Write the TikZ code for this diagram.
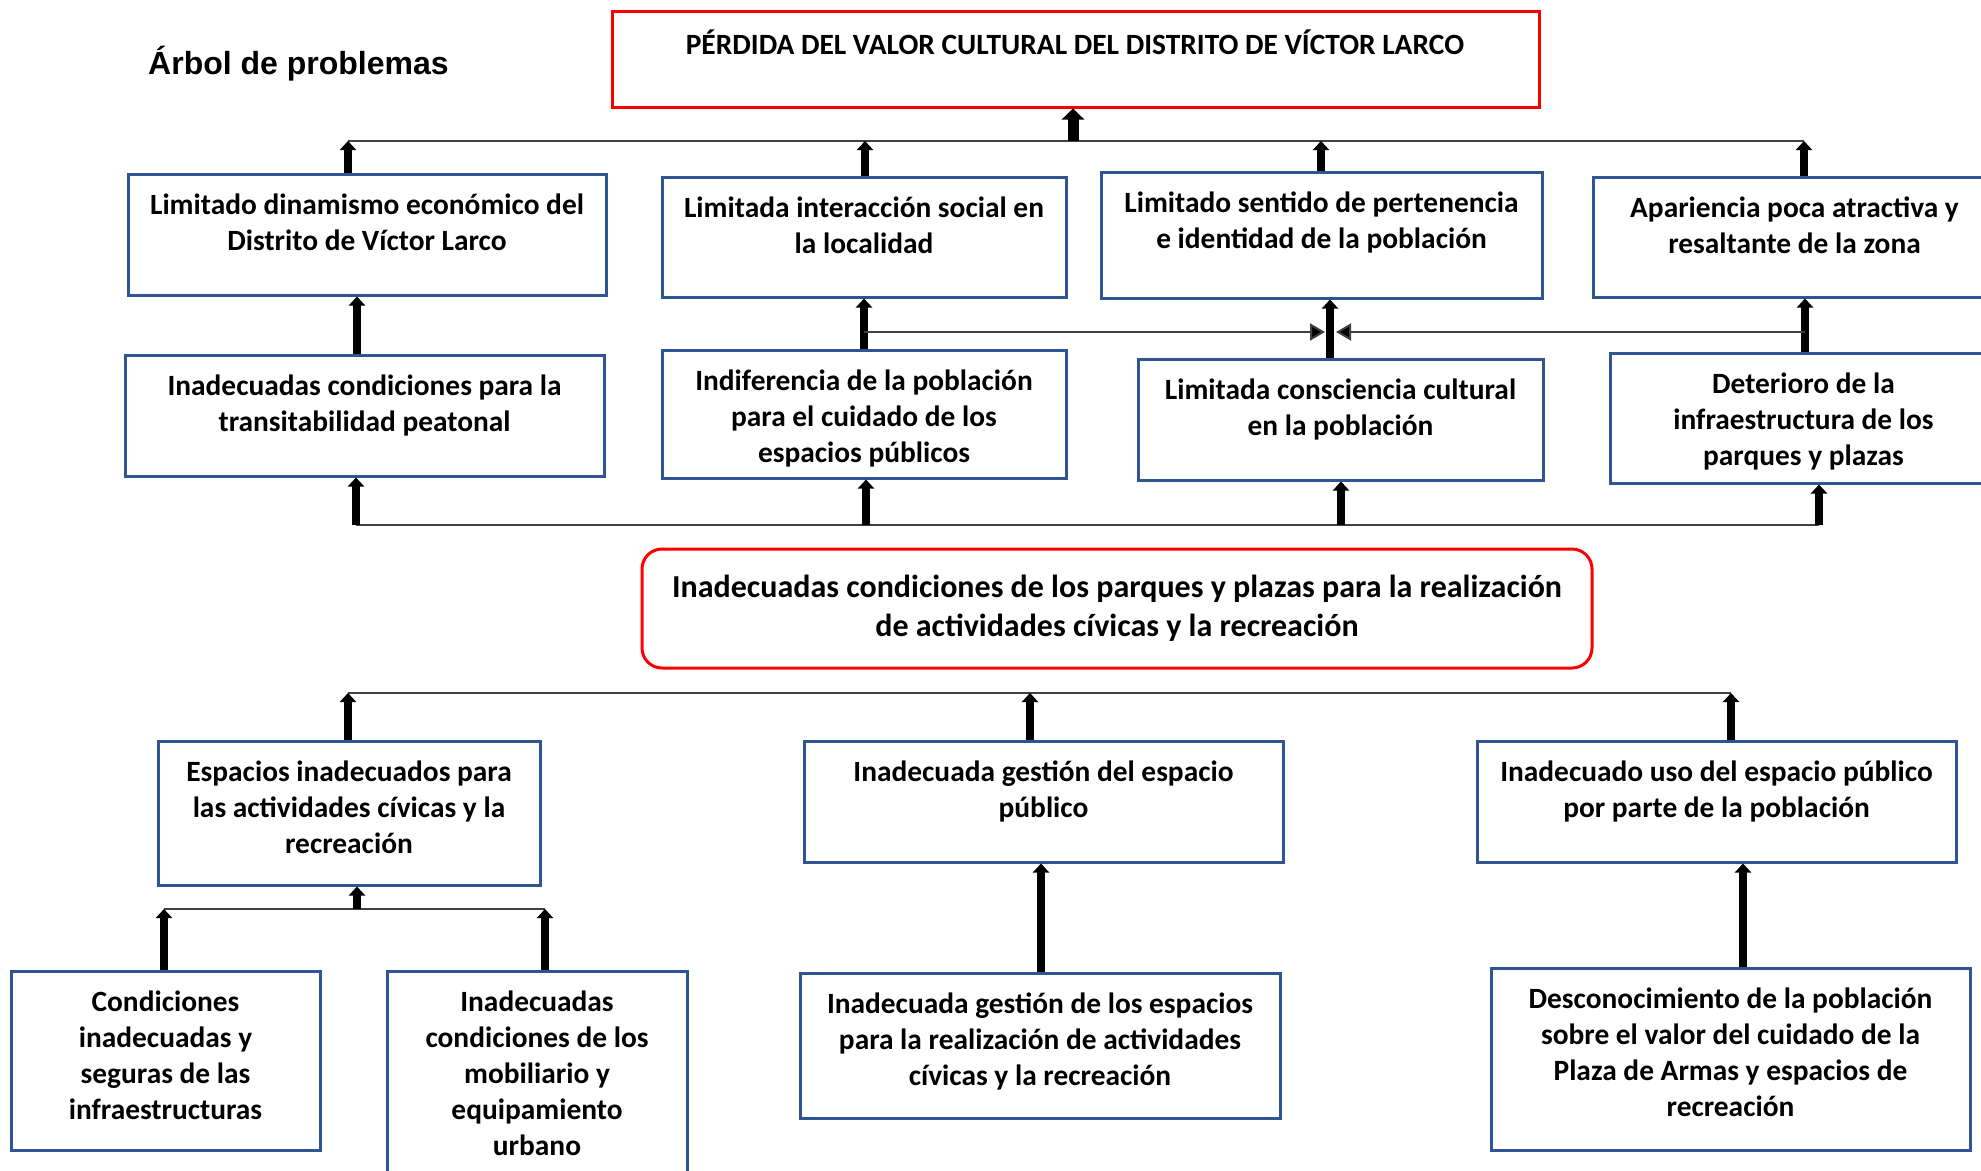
\documentclass[tikz,border=0pt]{standalone}
\usepackage{fontspec}
\setmainfont{Carlito}
\newfontfamily\arialfont{Liberation Sans}
\usetikzlibrary{arrows.meta,calc}
\definecolor{bxblue}{RGB}{47,85,151}
\definecolor{busgray}{RGB}{64,64,64}
\definecolor{pred}{RGB}{255,0,0}
\tikzset{
  box/.style={draw=bxblue, line width=3pt, inner sep=0pt, fill=white},
  redbox/.style={draw=pred, line width=3pt, inner sep=0pt},
  txt/.style={font=\bfseries\fontsize{29.4}{36}\selectfont, align=center, inner sep=0pt},
  arr/.style={line width=7.5pt, -{Triangle[width=16pt,length=9pt]}},
  bigarr/.style={line width=11pt, -{Triangle[width=22pt,length=11pt]}},
  harr/.style={line width=2pt, draw=busgray, -{Triangle[width=17pt,length=15pt,fill=black]}},
  bus/.style={line width=2pt, draw=busgray},
}
\newcommand\pbox[6]{%
  \node[box, minimum width={#4-#2}, minimum height={#5-#3}] (#1) at ({(#2+#4)/2},{(#3+#5)/2}) {};
  \node[txt, anchor=north] (#1t) at ($(#1.north)+(0,16.5)$) {\strut #6};}
\begin{document}
\begin{tikzpicture}[x=1pt,y=-1pt]
\useasboundingbox (0,0) rectangle (1981,1170);
\clip (0,0) rectangle (1981,1170);
\fill[white] (0,0) rectangle (1981,1170);

% title
\node[anchor=base west, inner sep=0pt, font=\arialfont\bfseries\fontsize{32}{38}\selectfont] (title) at (148,74) {Árbol de problemas};

% top effect
\node[redbox, minimum width=927, minimum height=96] (T) at (1075.5,59) {};
\node[anchor=base, inner sep=0pt, font=\bfseries\fontsize{29.4}{36}\selectfont] (Tt) at (1075,54.5) {PÉRDIDA DEL VALOR CULTURAL DEL DISTRITO DE VÍCTOR LARCO};

% row 1
\pbox{A}{128}{174}{606}{295}{Limitado dinamismo económico del\\Distrito de Víctor Larco}
\pbox{B}{662}{177}{1066}{297}{Limitada interacción social en\\la localidad}
\pbox{C}{1101}{172}{1542}{298}{Limitado sentido de pertenencia\\e identidad de la población}
\node[box, minimum width=400, minimum height=120] (D) at (1793,237) {};
\node[txt, anchor=north] (Dt) at ($(D.north west)+(203,16.5)$) {\strut Apariencia poca atractiva y\\resaltante de la zona};

% row 2
\pbox{E}{125}{355}{604}{476}{Inadecuadas condiciones para la\\transitabilidad peatonal}
\pbox{F}{662}{350}{1066}{478}{Indiferencia de la población\\para el cuidado de los\\espacios públicos}
\pbox{G}{1138}{359}{1543}{480}{Limitada consciencia cultural\\en la población}
\node[box, minimum width=390, minimum height=130] (H) at (1805,418) {};
\node[txt, anchor=north] (Ht) at ($(H.north west)+(195,16.5)$) {\strut Deterioro de la\\infraestructura de los\\parques y plazas};

% central problem
\node[redbox, rounded corners=20pt, minimum width=950, minimum height=119] (P) at (1117,608.5) {};
\node[anchor=north, align=center, inner sep=0pt, font=\bfseries\fontsize{32}{39}\selectfont] (Pt) at ($(P.north)+(0,22.5)$) {\strut Inadecuadas condiciones de los parques y plazas para la realización\\de actividades cívicas y la recreación};

% row 3
\pbox{I}{158}{741}{540}{885}{Espacios inadecuados para\\las actividades cívicas y la\\recreación}
\pbox{J}{804}{741}{1283}{862}{Inadecuada gestión del espacio\\público}
\pbox{K}{1477}{741}{1956}{862}{Inadecuado uso del espacio público\\por parte de la población}

% row 4
\pbox{L}{11}{971}{320}{1150}{Condiciones\\inadecuadas y\\seguras de las\\infraestructuras}
\pbox{M}{387}{971}{687}{1200}{Inadecuadas\\condiciones de los\\mobiliario y\\equipamiento\\urbano}
\pbox{N}{800}{973}{1280}{1118}{Inadecuada gestión de los espacios\\para la realización de actividades\\cívicas y la recreación}
\pbox{O}{1491}{968}{1970}{1150}{Desconocimiento de la población\\sobre el valor del cuidado de la\\Plaza de Armas y espacios de\\recreación}

% bus 1 (row 1 -> top)
\coordinate (b1a) at (348,141);
\coordinate (b1b) at (865,141);
\coordinate (b1t) at (1073,141);
\coordinate (b1c) at (1321,141);
\coordinate (b1d) at (1804,141);
\draw[bus] (b1a) -- (b1d);
\draw[bigarr] (b1t) -- (b1t |- T.south);
\draw[arr] (A.north -| b1a) -- (b1a);
\draw[arr] (B.north -| b1b) -- (b1b);
\draw[arr] (C.north -| b1c) -- (b1c);
\draw[arr] (D.north -| b1d) -- (b1d);

% row 2 -> row 1
\coordinate (xA) at (357,0);
\coordinate (xB) at (864,0);
\coordinate (xC) at (1330,0);
\coordinate (xD) at (1805,0);
\draw[arr] (E.north -| xA) -- (A.south -| xA);
\draw[arr] (F.north -| xB) -- (B.south -| xB);
\draw[arr] (G.north -| xC) -- (C.south -| xC);
\draw[arr] (H.north -| xD) -- (D.south -| xD);
\coordinate (hl) at (864,332);
\coordinate (hlt) at (1325,332);
\coordinate (hr) at (1805,332);
\coordinate (hrt) at (1336,332);
\draw[harr] (hl) -- (hlt);
\draw[harr] (hr) -- (hrt);

% bus 2 (below row 2)
\coordinate (b2a) at (356,525);
\coordinate (b2b) at (866,525);
\coordinate (b2c) at (1341,525);
\coordinate (b2d) at (1819,525);
\draw[bus] (b2a) -- (b2d);
\draw[arr] (b2a) -- (E.south -| b2a);
\draw[arr] (b2b) -- (F.south -| b2b);
\draw[arr] (b2c) -- (G.south -| b2c);
\draw[arr] (b2d) -- (H.south -| b2d);

% bus 3 (row 3 -> central)
\coordinate (b3a) at (348,693);
\coordinate (b3b) at (1030,693);
\coordinate (b3c) at (1731,693);
\draw[bus] (b3a) -- (b3c);
\draw[arr] (I.north -| b3a) -- (b3a);
\draw[arr] (J.north -| b3b) -- (b3b);
\draw[arr] (K.north -| b3c) -- (b3c);

% bus 4 (row 4 -> I)
\coordinate (b4a) at (164,909);
\coordinate (b4i) at (357,909);
\coordinate (b4b) at (545,909);
\draw[bus] (b4a) -- (b4b);
\draw[arr] (b4i) -- (I.south -| b4i);
\draw[arr] (L.north -| b4a) -- (b4a);
\draw[arr] (M.north -| b4b) -- (b4b);

% row 4 -> row 3
\coordinate (xJ) at (1041,0);
\coordinate (xK) at (1743,0);
\draw[arr] (N.north -| xJ) -- (J.south -| xJ);
\draw[arr] (O.north -| xK) -- (K.south -| xK);
\end{tikzpicture}
\end{document}
